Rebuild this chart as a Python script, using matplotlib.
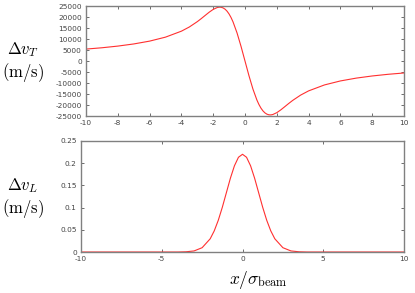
import numpy as np
import matplotlib
matplotlib.use("Agg")
import matplotlib.pyplot as plt

plt.rcParams['mathtext.fontset'] = 'cm'

# Top panel: transverse velocity change
x_top = [-10, -9, -8, -7, -6, -5, -4, -3.5, -3, -2.75, -2.5, -2.25, -2, -1.75, -1.625,
         -1.5, -1.375, -1.25, -1.125, -1.0, -0.875, -0.75, -0.5, -0.25, 0,
         0.25, 0.5, 0.75, 0.875, 1.0, 1.125, 1.25, 1.375, 1.5, 1.625, 1.75, 2, 2.25,
         2.5, 2.75, 3, 3.5, 4, 5, 6, 7, 8, 9, 10]
dv_T = [5430, 6030, 6790, 7760, 9050, 10860, 13570, 15480, 17900, 19290, 20760,
        22210, 23470, 24310, 24490, 24440, 24140, 23550, 22630, 21360, 19740,
        17750, 12760, 6680, 0,
        -6680, -12760, -17750, -19740, -21360, -22630, -23550, -24140, -24440,
        -24490, -24310, -23470, -22210, -20760, -19290, -17900, -15480, -13570,
        -10860, -9050, -7760, -6790, -6030, -5430]

# Bottom panel: longitudinal velocity change
x_bot = [-10, -4, -3.5, -3, -2.5, -2, -1.75, -1.5, -1.25, -1.0, -0.75, -0.5, -0.25,
         0, 0.25, 0.5, 0.75, 1.0, 1.25, 1.5, 1.75, 2, 2.5, 3, 3.5, 4, 10]
dv_L = [0, 0, 0.0005, 0.0024, 0.0097, 0.0298, 0.0476, 0.0714, 0.1007, 0.1334,
        0.1661, 0.1941, 0.2133, 0.22, 0.2133, 0.1941, 0.1661, 0.1334, 0.1007,
        0.0714, 0.0476, 0.0298, 0.0097, 0.0024, 0.0005, 0, 0]

top_xticks = [-10, -8, -6, -4, -2, 0, 2, 4, 6, 8, 10]
top_yticks = [-25000, -20000, -15000, -10000, -5000, 0, 5000, 10000, 15000, 20000, 25000]
bot_xticks = [-10, -5, 0, 5, 10]
bot_yticks = [0, 0.05, 0.1, 0.15, 0.2, 0.25]
bot_yticklabels = ['0', '0.05', '0.1', '0.15', '0.2', '0.25']

fig = plt.figure(figsize=(4.15, 2.93), dpi=100)
ax1 = fig.add_axes([0.2072, 0.604, 0.7663, 0.3754])
ax2 = fig.add_axes([0.1952, 0.1399, 0.7783, 0.379])

frame_col = '#808080'
for ax in (ax1, ax2):
    for s in ax.spines.values():
        s.set_color(frame_col)
        s.set_linewidth(1.0)
    ax.tick_params(direction='in', length=2, width=0.6, color='#555555',
                   labelsize=5.3, labelcolor='#444444', top=True, right=True, pad=3)

ax1.plot(x_top, dv_T, color='#ff3030', lw=0.8)
ax1.set_xlim(-10, 10)
ax1.set_ylim(-25000, 25000)
ax1.set_xticks(top_xticks)
ax1.set_xticklabels([str(t) for t in top_xticks])
ax1.set_yticks(top_yticks)
ax1.set_yticklabels([str(t) for t in top_yticks])

ax2.plot(x_bot, dv_L, color='#ff3030', lw=0.8)
ax2.set_xlim(-10, 10)
ax2.set_ylim(0, 0.25)
ax2.set_xticks(bot_xticks)
ax2.set_xticklabels([str(t) for t in bot_xticks])
ax2.set_yticks(bot_yticks)
ax2.set_yticklabels(bot_yticklabels)

fs = 12
fig.text(23 / 415, 1 - 50 / 293, r'$\Delta v_T$', ha='center', va='center', fontsize=fs)
fig.text(23 / 415, 1 - 73 / 293, r'$(\mathrm{m/s})$', ha='center', va='center', fontsize=fs)
fig.text(23 / 415, 1 - 186 / 293, r'$\Delta v_L$', ha='center', va='center', fontsize=fs)
fig.text(23 / 415, 1 - 208 / 293, r'$(\mathrm{m/s})$', ha='center', va='center', fontsize=fs)
fig.text(258 / 415, 1 - 280 / 293, r'$x/\sigma_{\rm beam}$', ha='center', va='center', fontsize=12.5)

fig.savefig('out.png', dpi=100)
